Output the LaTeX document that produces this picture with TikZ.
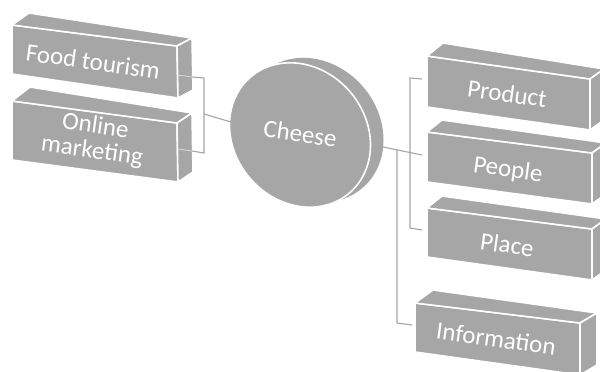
\documentclass[tikz,border=0pt]{standalone}
\usepackage{fontspec}
\setmainfont{Carlito}
\usetikzlibrary{calc}
\definecolor{boxgray}{RGB}{166,166,166}
\definecolor{linegray}{RGB}{165,165,165}
\tikzset{
  face/.style={fill=boxgray, draw=white, line width=1.6pt, line join=round},
  conn/.style={draw=linegray, line width=1.1pt},
  faint/.style={draw=white, opacity=0.55, line width=0.8pt},
  lbl/.style={text=white, font=\fontsize{25}{25}\selectfont, rotate=-8, align=center, inner sep=0pt, anchor=base},
}
\newcommand{\tbox}[7]{%
  \coordinate (#1-tl) at (#2);
  \coordinate (#1-tr) at (#3);
  \coordinate (#1-br) at (#4);
  \coordinate (#1-bl) at (#5);
  \path[face] (#1-tl) -- (#1-tr) -- (#1-br) -- (#1-bl) -- cycle;
  \path[face] (#1-tl) -- (#1-tr) -- ($(#1-tr)+(#7)$) -- ($(#1-tl)+(#6)$) -- cycle;
  \path[face] (#1-tr) -- ($(#1-tr)+(#7)$) -- ($(#1-br)+(#7)$) -- (#1-br) -- cycle;
}
\begin{document}
\begin{tikzpicture}[x=1pt,y=-1pt]
\useasboundingbox (0,0) rectangle (600,372);
\clip (0,0) rectangle (600,372);
% boxes
\tbox{FT}{12,25}{177,46}{178,98}{12,74}{17,-12}{15,-8}
\tbox{OM}{12,101}{177,123}{178,182}{12,160}{18,-14}{15,-10}
\tbox{PR}{427,56}{590,79}{590,130}{427,107}{16,-13}{14,-10}
\tbox{PE}{427,132}{592,153}{592,204}{427,182}{15,-12}{14,-10}
\tbox{PL}{427,208}{592,229}{592,280}{427,257}{15,-12}{14,-10}
\tbox{IN}{415,303}{580,323}{580,375}{415,352}{18,-13}{17,-10}
% cheese
\fill[boxgray] plot[domain=0:360, samples=120, smooth cycle] ({313+70.5*cos(\x)}, {130+10*cos(\x)+71.5*sin(\x)});
\path[face] plot[domain=0:360, samples=120, smooth cycle] ({300+70.5*cos(\x)}, {135+10*cos(\x)+71.5*sin(\x)});
% connector points
\coordinate (ftin) at (178,75);
\coordinate (ftc) at (192,77);
\coordinate (lj1) at (204,78);
\coordinate (omin) at (178,149);
\coordinate (omc) at (192,151);
\coordinate (lj2) at (204,153);
\coordinate (lm) at (204,114);
\coordinate (chl) at (231,122);
\coordinate (chr) at (383,147);
\coordinate (rj1) at (397,150);
\coordinate (pec) at (422,155);
\coordinate (rpt) at (410,78);
\coordinate (prc) at (422,79);
\coordinate (rpb) at (410,228);
\coordinate (plc) at (422,230);
\coordinate (rib) at (397,323);
\coordinate (inc) at (412,325);
% connectors
\draw[conn] (ftc) -- (lj1) -- (lj2) -- (omc);
\draw[faint] (ftin) -- (ftc);
\draw[faint] (omin) -- (omc);
\draw[conn] (lm) -- (chl);
\draw[conn] (chr) -- (pec);
\draw[conn] (prc) -- (rpt) -- (rpb) -- (plc);
\draw[conn] (rj1) -- (rib) -- (inc);
% labels
\node[lbl] (ft) at (92,70) {Food tourism};
\node[lbl] (om) at (91,158) {Online\\marketing};
\node[lbl] (ch) at (299,142) {Cheese};
\node[lbl] (pr) at (506,102) {Product};
\node[lbl] (pe) at (507,177) {People};
\node[lbl] (pl) at (506,253) {Place};
\node[lbl] (in) at (495,347) {Information};
\end{tikzpicture}
\end{document}
